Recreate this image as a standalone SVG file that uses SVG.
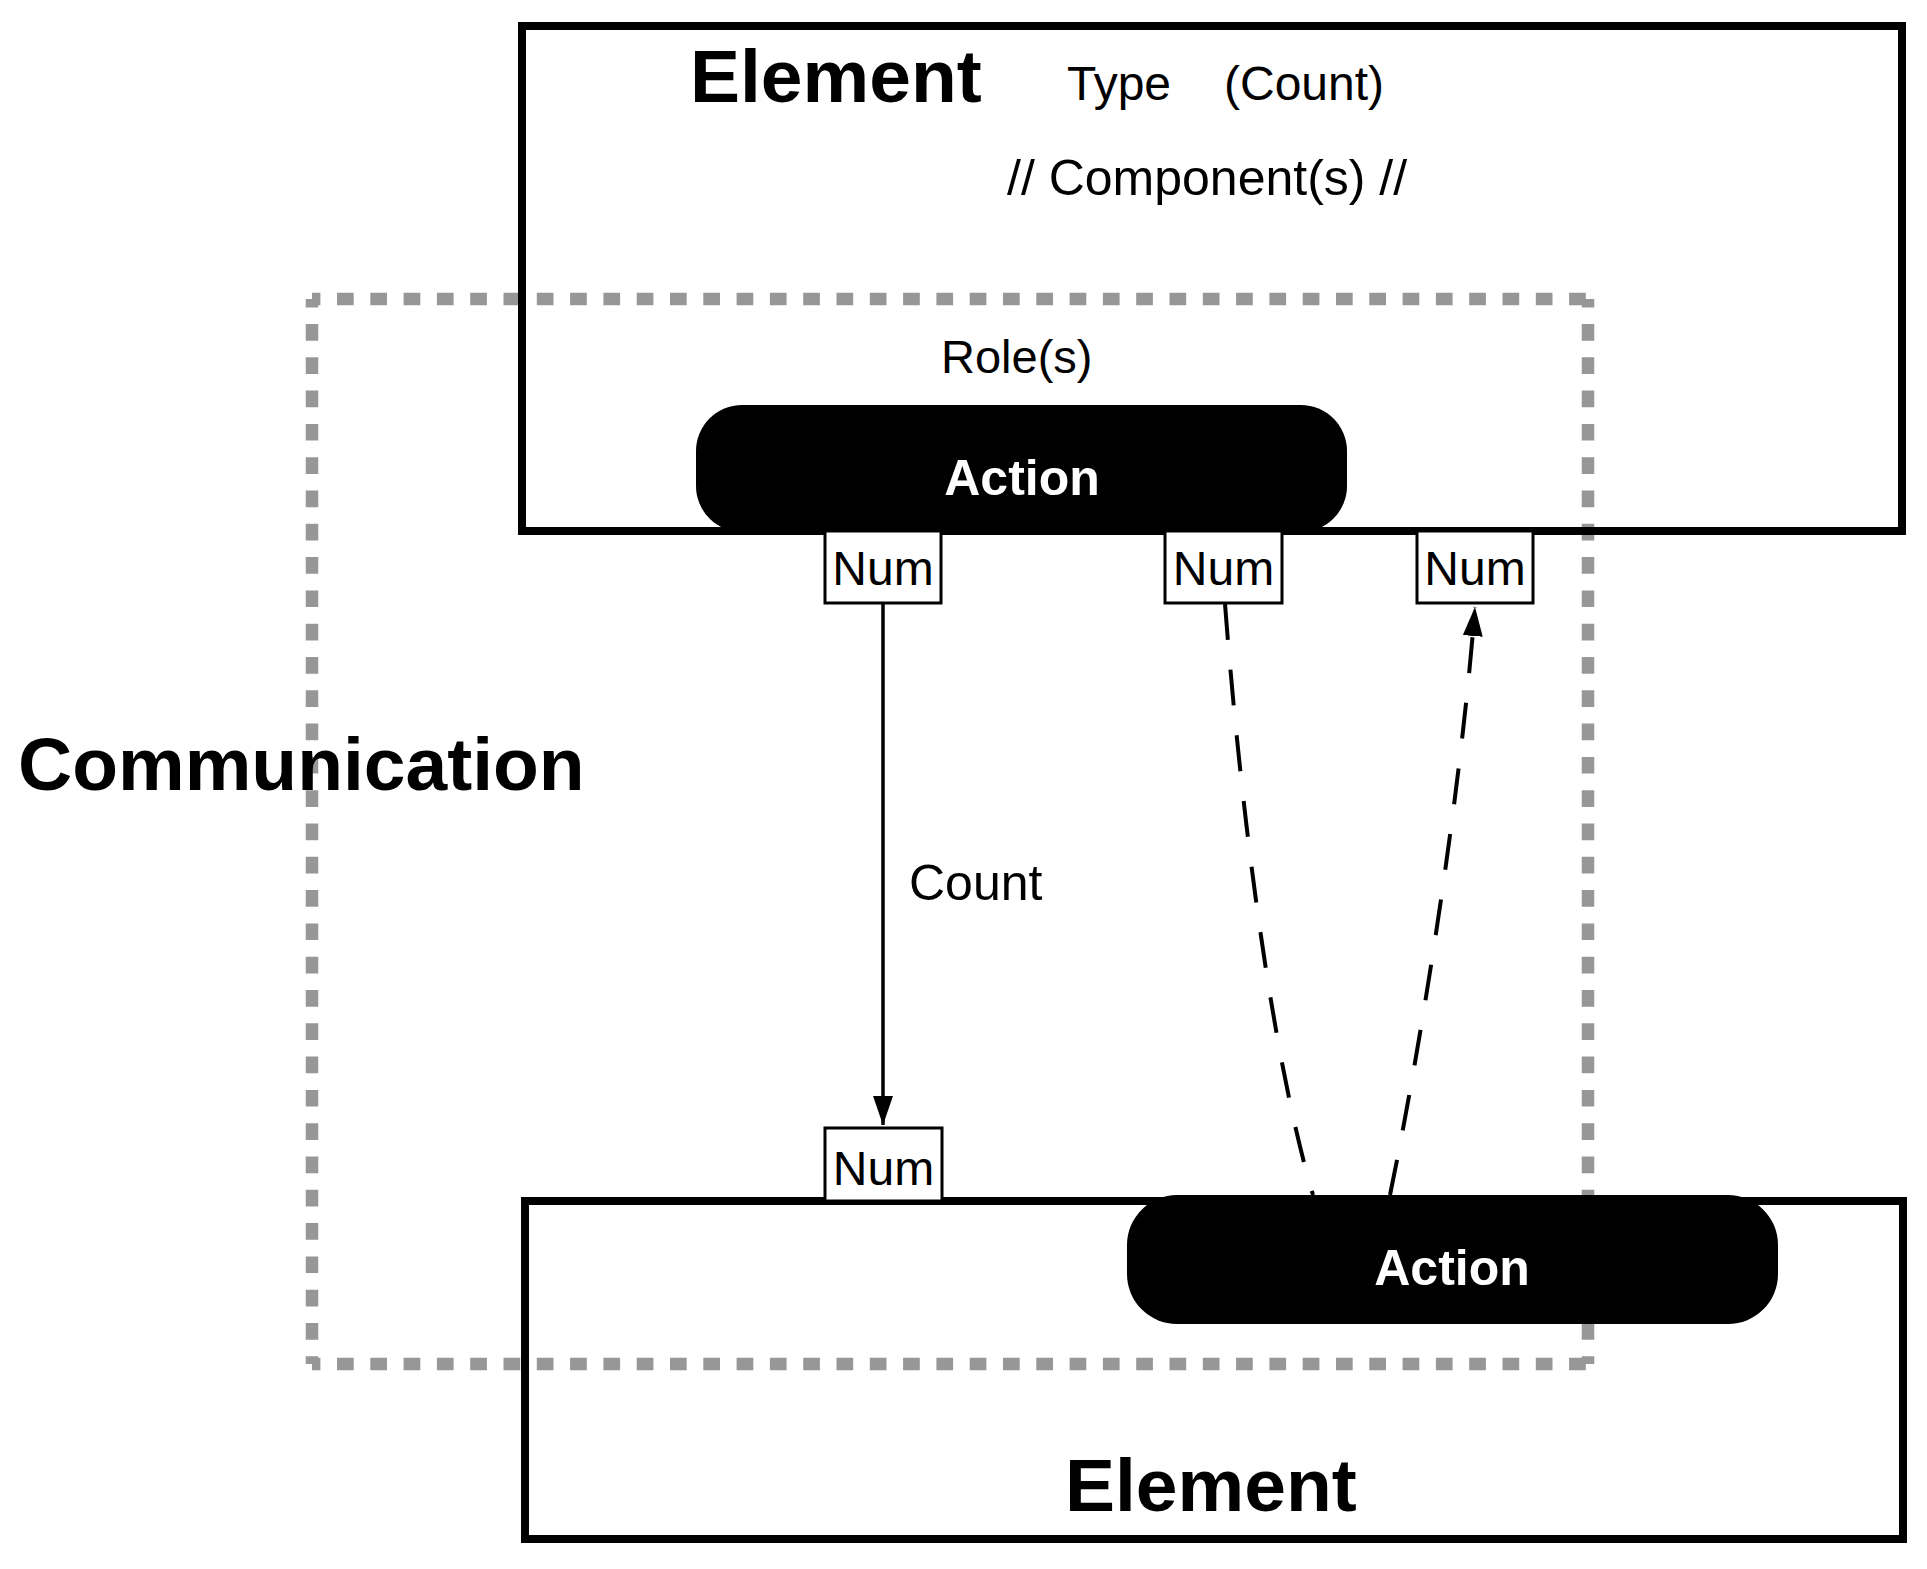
<svg xmlns="http://www.w3.org/2000/svg" width="1927" height="1569" viewBox="0 0 1927 1569">
  <style>
    .box { fill: none; stroke: #000; stroke-width: 8; }
    .pill { fill: #000; }
    .num { fill: #fff; stroke: #000; stroke-width: 3; }
    .dot { stroke: #979797; stroke-width: 12.5; stroke-dasharray: 16.7 16.6; stroke-dashoffset: 8.3; fill: none; }
    .t { font-family: "Liberation Sans", Arial, Helvetica, sans-serif; fill: #000; }
    .big { font-size: 75px; font-weight: bold; }
    .reg { font-size: 48px; }
    .numt { font-size: 48px; text-anchor: middle; }
    .act { font-size: 50px; font-weight: bold; fill: #fff; text-anchor: middle; }
    .solid { stroke: #000; stroke-width: 3.5; fill: none; }
    .dash { stroke: #000; stroke-width: 4; fill: none; stroke-dasharray: 36 30; }
  </style>
  <defs>
    <marker id="arrow" viewBox="0 0 29 20" refX="29" refY="10" markerWidth="29" markerHeight="20" markerUnits="userSpaceOnUse" orient="auto">
      <polygon points="0,0 29,10 0,20" fill="#000"/>
    </marker>
  </defs>
  <rect x="0" y="0" width="1927" height="1569" fill="#fff"/>

  <g id="communication">
    <line class="dot" x1="312" y1="299" x2="1588" y2="299"/>
    <line class="dot" x1="312" y1="299" x2="312" y2="1364"/>
    <line class="dot" x1="1588" y1="299" x2="1588" y2="1364"/>
    <line class="dot" x1="312" y1="1364" x2="1588" y2="1364"/>
    <text class="t big" x="18" y="790" font-size="76">Communication</text>
  </g>

  <g id="element-top">
    <rect class="box" x="522" y="26" width="1380" height="505"/>
    <text class="t big" x="690" y="102">Element</text>
    <text class="t reg" x="1067" y="100">Type</text>
    <text class="t reg" x="1224" y="100">(Count)</text>
    <text class="t" x="1007" y="195" font-size="50">// Component(s) //</text>
    <text class="t" x="941" y="373" font-size="47">Role(s)</text>
  </g>

  <g id="action-top">
    <rect class="pill" x="696" y="405" width="651" height="127" rx="46" ry="46"/>
    <text class="t act" x="1022" y="495">Action</text>
  </g>

  <g id="element-bottom">
    <rect class="box" x="525" y="1201" width="1378" height="338"/>
    <text class="t big" x="1065" y="1511">Element</text>
  </g>

  <g id="action-bottom">
    <rect class="pill" x="1127" y="1195" width="651" height="129" rx="50" ry="50"/>
    <text class="t act" x="1452" y="1285">Action</text>
  </g>

  <g id="num-1">
    <rect class="num" x="825" y="531" width="116" height="72"/>
    <text class="t numt" x="883" y="585">Num</text>
  </g>
  <g id="num-2">
    <rect class="num" x="1165" y="531" width="117" height="72"/>
    <text class="t numt" x="1223.5" y="585">Num</text>
  </g>
  <g id="num-3">
    <rect class="num" x="1417" y="531" width="116" height="72"/>
    <text class="t numt" x="1475" y="585">Num</text>
  </g>
  <g id="num-4">
    <rect class="num" x="825" y="1128" width="117" height="73"/>
    <text class="t numt" x="883.5" y="1185">Num</text>
  </g>

  <g id="connectors">
    <line class="solid" x1="883" y1="603" x2="883" y2="1125" marker-end="url(#arrow)"/>
    <text class="t" x="909" y="900" font-size="50">Count</text>
    <path class="dash" d="M1225,604 C1240,800 1270,1050 1313,1195"/>
    <path class="dash" d="M1390,1195 C1420,1050 1460,800 1475,607" marker-end="url(#arrow)"/>
  </g>
</svg>
